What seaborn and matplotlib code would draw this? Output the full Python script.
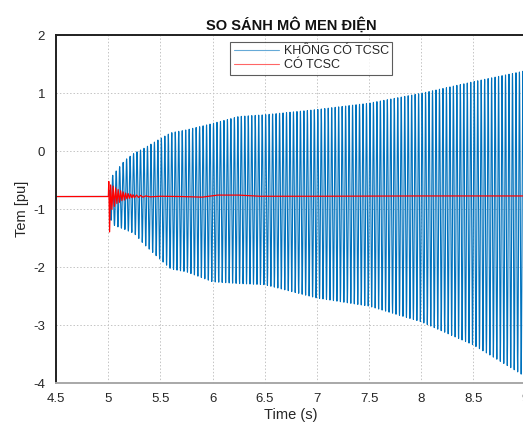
import numpy as np
import pandas as pd
import matplotlib
matplotlib.use("Agg")
import matplotlib.pyplot as plt
import seaborn as sns

# ---------------- data ----------------
title = "SO SÁNH MÔ MEN ĐIỆN"
series_names = ["KHÔNG CÓ TCSC", "CÓ TCSC"]
x_label = "Time (s)"
y_label = "Tem [pu]"
x_ticks = [4.5, 5, 5.5, 6, 6.5, 7, 7.5, 8, 8.5, 9]
x_tick_labels = ["4.5", "5", "5.5", "6", "6.5", "7", "7.5", "8", "8.5", "9"]
y_ticks = [-4, -3, -2, -1, 0, 1, 2]
y_tick_labels = ["-4", "-3", "-2", "-1", "0", "1", "2"]

pre_fault_level = -0.78          # steady torque before the disturbance
fault_time = 5.0                 # s
osc_freq = 30.0                  # Hz, visible oscillation rate of the blue trace

# envelope of the un-compensated (blue) torque oscillation
env_t = [5.0, 5.03, 5.16, 5.25, 5.34, 5.5, 5.6, 5.75, 6.0, 6.25, 6.5, 7.0, 7.5, 8.0, 8.5, 8.95, 9.0]
env_upper = [-0.78, -0.44, -0.15, -0.03, 0.05, 0.22, 0.32, 0.37, 0.48, 0.60, 0.63, 0.72, 0.83, 1.00, 1.20, 1.37, 1.39]
env_lower = [-0.78, -1.26, -1.35, -1.42, -1.60, -1.87, -2.03, -2.08, -2.25, -2.28, -2.30, -2.53, -2.67, -2.94, -3.34, -3.83, -3.90]

# compensated (red) torque trace
red_t = [4.5, 5.0, 5.004, 5.012, 5.022, 5.034, 5.046, 5.058, 5.070, 5.082, 5.094,
         5.106, 5.118, 5.130, 5.142, 5.154, 5.166, 5.178, 5.190, 5.202, 5.214,
         5.226, 5.238, 5.25, 5.27, 5.29, 5.31, 5.33, 5.36, 5.40, 5.5, 5.7, 5.9,
         6.05, 6.25, 6.45, 7.0, 8.0, 9.0]
red_v = [-0.78, -0.78, -0.52, -1.39, -0.58, -1.00, -0.60, -0.95, -0.63, -0.90, -0.66,
         -0.88, -0.68, -0.85, -0.70, -0.84, -0.72, -0.82, -0.73, -0.81, -0.74,
         -0.80, -0.75, -0.80, -0.755, -0.795, -0.76, -0.79, -0.77, -0.785, -0.775, -0.78, -0.79,
         -0.755, -0.755, -0.775, -0.775, -0.77, -0.77]

# ---------------- build the blue trace ----------------
t = np.arange(4.5, 9.0 + 1e-9, 1e-4)
up = np.interp(t, env_t, env_upper)
lo = np.interp(t, env_t, env_lower)
mid = (up + lo) / 2
amp = (up - lo) / 2
blue = np.where(t < fault_time, pre_fault_level,
                mid + amp * np.sin(2 * np.pi * osc_freq * (t - fault_time)))
df_blue = pd.DataFrame({"t": t, "v": blue})
df_red = pd.DataFrame({"t": red_t, "v": red_v})

# ---------------- plot ----------------
sns.set_style("white")
plt.rcParams["font.family"] = ["Liberation Sans", "DejaVu Sans"]

W, H = 523, 424
fig = plt.figure(figsize=(W / 100, H / 100), dpi=100)
ax = fig.add_axes([56.2 / W, (H - 383.3) / H, (525.5 - 56.2) / W, (383.3 - 35.3) / H])

sns.lineplot(data=df_blue, x="t", y="v", ax=ax, color="#0072BD", linewidth=0.8,
             estimator=None, sort=False, label=series_names[0])
sns.lineplot(data=df_red, x="t", y="v", ax=ax, color="#FF0000", linewidth=0.9,
             estimator=None, sort=False, label=series_names[1])

ax.set_xlim(4.5, 9.0)
ax.set_ylim(-4, 2)
ax.set_xticks(x_ticks)
ax.set_xticklabels(x_tick_labels)
ax.set_yticks(y_ticks)
ax.set_yticklabels(y_tick_labels)
ax.tick_params(direction="in", length=4, width=0.8, colors="#606060",
               labelcolor="#262626", labelsize=9.5)
ax.tick_params(axis="x", pad=7)
ax.tick_params(axis="y", pad=8)

ax.grid(True, linestyle=(0, (1.5, 2)), color="#c4c4c4", linewidth=0.7)
ax.set_axisbelow(True)

for side in ["top", "left"]:
    ax.spines[side].set_color("#202020")
    ax.spines[side].set_linewidth(1.4)
ax.spines["bottom"].set_color("#a8a8a8")
ax.spines["bottom"].set_linewidth(1.4)
ax.spines["right"].set_color("#a8a8a8")

ax.set_title(title, fontsize=10.5, fontweight="bold", color="#111111", pad=4)
ax.set_xlabel(x_label, fontsize=10.5, color="#262626", labelpad=2)
ax.set_ylabel(y_label, fontsize=10.5, color="#262626", labelpad=3)

leg = ax.legend(loc="upper left", bbox_to_anchor=(0.370, 0.982), fontsize=9,
                frameon=True, fancybox=False, borderpad=0.3, labelspacing=0.15,
                handlelength=3.6, handletextpad=0.4, borderaxespad=0)
leg.get_frame().set_edgecolor("#333333")
leg.get_frame().set_linewidth(0.8)
for line in leg.get_lines():
    line.set_linewidth(0.8)
    line.set_alpha(0.6)

fig.savefig("out.png", dpi=100)
